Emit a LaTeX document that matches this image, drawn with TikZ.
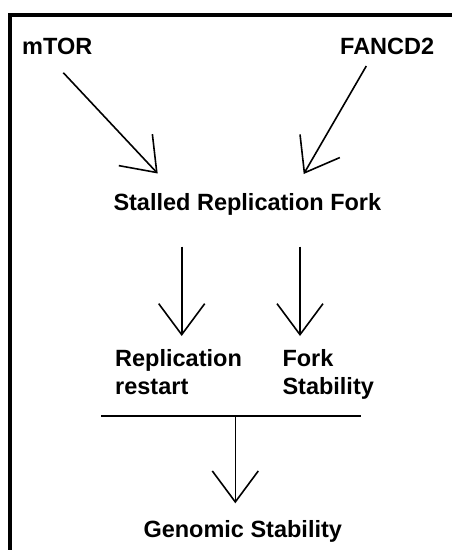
\documentclass[tikz,border=0pt]{standalone}
\usepackage{fontspec}
\setmainfont{Liberation Sans}
\usepackage{tikz}
\usetikzlibrary{
    arrows.meta,
    positioning,
    calc
}
\tikzstyle{txt} = [
    inner sep=0pt,
    anchor=base west,
    align=left,
    font=\fontsize{23.5}{28}\selectfont\bfseries
]
\tikzstyle{arrow} = [
    -{Straight Barb[length=31pt,width=46pt]},
    line width=1.6pt
]

\begin{document}
\begin{tikzpicture}[
    x=1pt, y=-1pt,
    frameline/.style={line width=4.3pt, line join=miter},
    barline/.style={line width=1.6pt}
]
    \useasboundingbox (0,0) rectangle (452,550);

    % Frame
    \draw[frameline] (10.3,550) -- (10.3,15.3) -- (452,15.3);

    % Inputs
    \node[txt] (mtor) at (22,54) {mTOR};
    \node[txt] (fancd) at (340,54) {FANCD2};

    % Stalled fork
    \node[txt] (fork) at (113.3,210.7) {Stalled Replication Fork};

    % Outcomes
    \node[txt, anchor=north west] (restart) at (115,349.5) {Replication\\restart};
    \node[txt, anchor=north west] (stab) at (282.3,349.5) {Fork\\Stability};

    % Genomic Stability
    \node[txt] (genome) at (143.3,537.7) {Genomic Stability};

    % Connector ends
    \coordinate (mtorout) at (63.3,72.7);
    \coordinate (forkinl) at (157.7,173.5);
    \coordinate (fancdout) at (366.3,66);
    \coordinate (forkinr) at (303.7,174);
    \coordinate (restartin) at (181.7,336);
    \coordinate (forkoutl) at (181.7,246.7);
    \coordinate (stabin) at (300,336);
    \coordinate (forkoutr) at (300,246.7);
    \coordinate (barl) at (101,415.7);
    \coordinate (barr) at (361,415.7);
    \coordinate (barmid) at (235.3,415.7);
    \coordinate (genomein) at (235.3,503.3);

    % Arrows
    \draw[arrow] (mtorout) -- (forkinl);
    \draw[arrow] (fancdout) -- (forkinr);
    \draw[arrow] (forkoutl) -- (restartin);
    \draw[arrow] (forkoutr) -- (stabin);
    \draw[barline] (barl) -- (barr);
    \draw[arrow] (barmid) -- (genomein);

\end{tikzpicture}
\end{document}
